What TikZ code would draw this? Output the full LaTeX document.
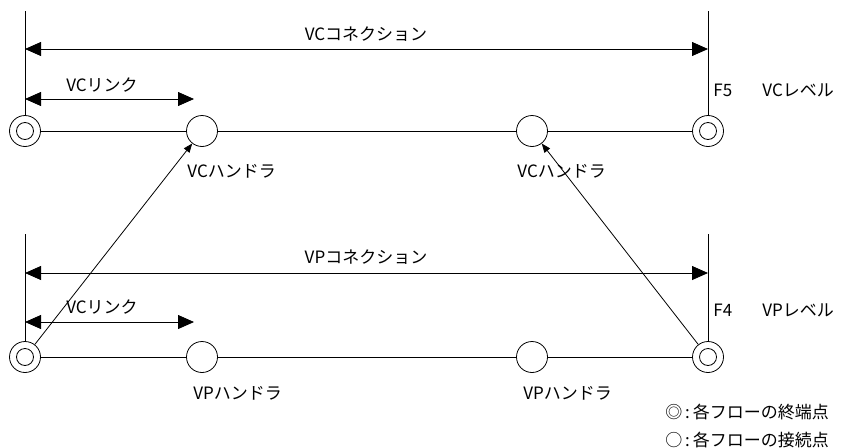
\documentclass[tikz,border=0pt]{standalone}
\usepackage{fontspec}
\setmainfont{Noto Sans CJK JP}
\usetikzlibrary{arrows.meta}
\begin{document}
\begin{tikzpicture}[x=1pt,y=-1pt,line width=0.8pt,
  term/.style={circle,draw,minimum size=31pt,inner sep=0pt,fill=white,
    path picture={\draw (path picture bounding box.center) circle (8.5pt);}},
  hand/.style={circle,draw,minimum size=31pt,inner sep=0pt,fill=white},
  lbl/.style={font=\fontsize{17pt}{20pt}\selectfont,inner sep=0pt},
  bigboth/.style={{Triangle[length=16pt,width=14pt]}-{Triangle[length=16pt,width=14pt]}},
  small/.style={-{Triangle[length=9pt,width=7pt]}}]
\useasboundingbox (0,0) rectangle (850,447);
% top row (VC level)
\node[term] (t1) at (25,131) {};
\node[hand] (h1) at (202,131) {};
\node[hand] (h2) at (532,131) {};
\node[term] (t2) at (708,131) {};
\coordinate (v1top) at (25,11);
\coordinate (v2top) at (708,11);
\coordinate (ca1) at (25,49);
\coordinate (ca2) at (708,49);
\coordinate (la1) at (25,99);
\coordinate (la2) at (194,99);
% bottom row (VP level)
\node[term] (b1) at (25,357) {};
\node[hand] (g1) at (202,357) {};
\node[hand] (g2) at (532,357) {};
\node[term] (b2) at (708,357) {};
\coordinate (w1top) at (25,234);
\coordinate (w2top) at (708,234);
\coordinate (cb1) at (25,273);
\coordinate (cb2) at (708,273);
\coordinate (lb1) at (25,322);
\coordinate (lb2) at (194,322);
% lines
\draw (t1) -- (h1) -- (h2) -- (t2);
\draw (b1) -- (g1) -- (g2) -- (b2);
\draw (v1top) -- (t1);
\draw (v2top) -- (t2);
\draw (w1top) -- (b1);
\draw (w2top) -- (b2);
\draw[bigboth] (ca1) -- (ca2);
\draw[bigboth] (la1) -- (la2);
\draw[bigboth] (cb1) -- (cb2);
\draw[bigboth] (lb1) -- (lb2);
\draw[small] (b1) -- (h1);
\draw[small] (b2) -- (h2);
% labels
\node[lbl] (lc1) at (366,34) {VCコネクション};
\node[lbl] (ll1) at (102,85) {VCリンク};
\node[lbl,anchor=west] (f5) at (713,90) {F5};
\node[lbl,anchor=west] (vcl) at (762,90) {VCレベル};
\node[lbl,anchor=west] (hl1) at (187,171) {VCハンドラ};
\node[lbl,anchor=west] (hl2) at (517,171) {VCハンドラ};
\node[lbl] (lc2) at (366,257) {VPコネクション};
\node[lbl] (ll2) at (102,307) {VCリンク};
\node[lbl,anchor=west] (f4) at (713,310) {F4};
\node[lbl,anchor=west] (vpl) at (762,310) {VPレベル};
\node[lbl,anchor=west] (gl1) at (193,393) {VPハンドラ};
\node[lbl,anchor=west] (gl2) at (523,393) {VPハンドラ};
\node[lbl,anchor=west] (leg1) at (665,412) {◎\,:\,各フローの終端点};
\node[lbl,anchor=west] (leg2) at (665,440) {○\,:\,各フローの接続点};
\end{tikzpicture}
\end{document}
